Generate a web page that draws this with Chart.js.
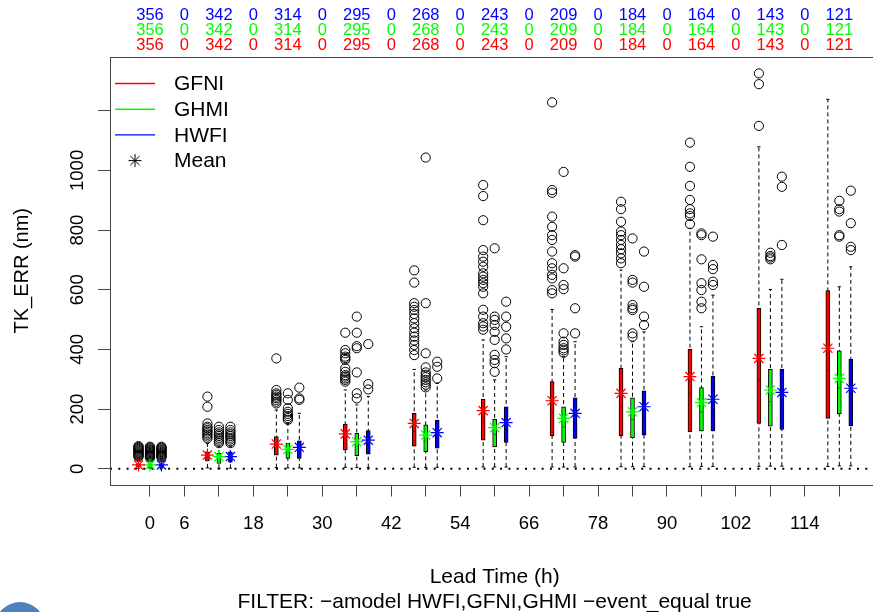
<!DOCTYPE html>
<html>
<head>
<meta charset="utf-8">
<title>TK_ERR by lead time</title>
<script src="https://cdn.jsdelivr.net/npm/chart.js@4.4.1/dist/chart.umd.min.js"></script>
<style>
  html, body { margin: 0; padding: 0; background: #fff; overflow: hidden; }
  #wrap { position: relative; width: 890px; height: 620px; }
  #dot { position: absolute; left: -5px; top: 602px; width: 50px; height: 50px; border-radius: 50%; background: #4f81bd; }
</style>
</head>
<body>
<div id="wrap"><canvas id="chart" width="890" height="620"></canvas></div>
<div id="dot"></div>
<script>
// axis positions and labels
const leadTimes = [0, 6, 12, 18, 24, 30, 36, 42, 48, 54, 60, 66, 72, 78, 84, 90, 96, 102, 108, 114, 120];
const leadLabels = [0, 6, 18, 30, 42, 54, 66, 78, 90, 102, 114];
const yTicks = [0, 200, 400, 600, 800, 1000, 1200];
const yLabels = [0, 200, 400, 600, 800, 1000];

// sample counts shown above the plot
const countsHWFI = [356, 0, 342, 0, 314, 0, 295, 0, 268, 0, 243, 0, 209, 0, 184, 0, 164, 0, 143, 0, 121];
const countsGHMI = [356, 0, 342, 0, 314, 0, 295, 0, 268, 0, 243, 0, 209, 0, 184, 0, 164, 0, 143, 0, 121];
const countsGFNI = [356, 0, 342, 0, 314, 0, 295, 0, 268, 0, 243, 0, 209, 0, 184, 0, 164, 0, 143, 0, 121];

// lead times that have boxes
const boxLeads = [0, 12, 24, 36, 48, 60, 72, 84, 96, 108, 120];

// GFNI
const gfniLow    = [2, 3, 4, 5, 5, 6, 6, 7, 7, 8, 8];
const gfniQ1     = [6, 27, 46, 63, 76, 96, 110, 110, 124, 152, 169];
const gfniMedian = [10, 40, 70, 100, 125, 160, 190, 205, 255, 300, 330];
const gfniQ3     = [17, 57, 108, 150, 186, 233, 292, 337, 400, 538, 597];
const gfniHigh   = [36, 85, 197, 264, 333, 432, 534, 666, 806, 1079, 1238];
const gfniMean   = [13, 46, 83, 117, 152, 195, 228, 253, 309, 370, 404];
const gfniOut = [
  [40, 43, 46, 49, 52, 55, 58, 61, 64, 67, 70, 73, 76],
  [102, 108, 114, 119, 125, 130, 136, 141, 152, 208, 242],
  [219, 225, 231, 237, 242, 248, 253, 264, 370],
  [292, 298, 303, 309, 314, 325, 337, 365, 371, 376, 387, 398, 456],
  [381, 398, 415, 430, 443, 456, 471, 488, 504, 519, 532, 543, 555, 624, 665],
  [466, 477, 488, 510, 533, 588, 610, 622, 633, 644, 655, 677, 694, 711, 733, 833, 914, 951],
  [588, 599, 638, 650, 672, 689, 728, 767, 783, 811, 845, 925, 934, 1228],
  [689, 705, 722, 736, 750, 767, 783, 795, 828, 870, 895],
  [820, 847, 856, 870, 901, 948, 1012, 1093],
  [1149, 1289, 1325],
  []
];

// GHMI
const ghmiLow    = [2, 2, 3, 4, 5, 6, 6, 7, 8, 9, 10];
const ghmiQ1     = [5, 18, 35, 44, 57, 74, 88, 104, 127, 143, 184];
const ghmiMedian = [9, 30, 55, 75, 95, 115, 140, 165, 190, 225, 270];
const ghmiQ3     = [16, 52, 85, 119, 147, 166, 208, 238, 272, 333, 395];
const ghmiHigh   = [34, 74, 152, 214, 264, 298, 376, 426, 476, 601, 610];
const ghmiMean   = [13, 41, 65, 91, 113, 138, 169, 191, 222, 264, 303];
const ghmiOut = [
  [38, 41, 44, 47, 50, 53, 56, 59, 62, 65, 68, 71, 74],
  [86, 92, 98, 104, 110, 116, 122, 130, 141],
  [164, 170, 177, 184, 191, 203, 231, 253],
  [236, 253, 323, 404, 411, 456, 510],
  [273, 282, 290, 298, 307, 315, 323, 340, 387, 555, 1043],
  [325, 354, 365, 382, 432, 459, 482, 499, 510, 739],
  [389, 397, 404, 415, 426, 454, 602, 616, 672, 995],
  [443, 454, 532, 538, 549, 624, 633, 772],
  [538, 560, 599, 622, 702, 783, 789],
  [702, 708, 713, 724],
  [778, 783, 862, 870, 898]
];

// HWFI
const hwfiLow    = [2, 2, 3, 4, 5, 6, 6, 7, 8, 9, 10];
const hwfiQ1     = [5, 22, 35, 49, 69, 88, 102, 113, 127, 132, 144];
const hwfiMedian = [9, 32, 58, 80, 100, 130, 155, 175, 200, 215, 230];
const hwfiQ3     = [16, 57, 94, 128, 163, 208, 238, 261, 311, 333, 367];
const hwfiHigh   = [34, 76, 186, 242, 286, 376, 426, 459, 582, 635, 677];
const hwfiMean   = [13, 41, 72, 96, 121, 155, 186, 208, 233, 256, 270];
const hwfiOut = [
  [38, 41, 44, 47, 50, 53, 56, 59, 62, 65, 68, 71, 74],
  [86, 92, 98, 104, 110, 116, 122, 130, 141],
  [231, 236, 272],
  [266, 284, 418],
  [303, 342, 359],
  [400, 437, 476, 510, 560],
  [454, 538, 711, 716],
  [482, 510, 610, 728],
  [616, 627, 669, 683, 778],
  [750, 945, 979],
  [733, 744, 823, 932]
];

const models = [
  { name: 'GFNI', color: '#ff0000', dark: '#900000', offset: -2, low: gfniLow, q1: gfniQ1, med: gfniMedian, q3: gfniQ3, high: gfniHigh, mean: gfniMean, out: gfniOut },
  { name: 'GHMI', color: '#00ff00', dark: '#009000', offset: 0,  low: ghmiLow, q1: ghmiQ1, med: ghmiMedian, q3: ghmiQ3, high: ghmiHigh, mean: ghmiMean, out: ghmiOut },
  { name: 'HWFI', color: '#0000ff', dark: '#000090', offset: 2,  low: hwfiLow, q1: hwfiQ1, med: hwfiMedian, q3: hwfiQ3, high: hwfiHigh, mean: hwfiMean, out: hwfiOut }
];

const xMin = -6.96, xMax = 126.96;
const FONT = "'Liberation Sans', Arial, Helvetica, sans-serif";
Chart.defaults.font.family = FONT;
Chart.defaults.color = '#000';

const datasets = [];

// dotted zero line
datasets.push({
  type: 'line', data: [{ x: xMin, y: 0 }, { x: xMax, y: 0 }],
  borderColor: '#000', borderWidth: 2, borderDash: [2, 6.3], borderCapStyle: 'butt',
  pointRadius: 0, order: 6
});

models.forEach(m => {
  const whisk = [];
  boxLeads.forEach((t, i) => {
    whisk.push({ x: t + m.offset, y: m.low[i] }, { x: t + m.offset, y: m.high[i] }, { x: t + m.offset, y: null });
  });
  datasets.push({
    type: 'line', data: whisk, showLine: true, spanGaps: false,
    borderColor: '#000', borderWidth: 1, borderDash: [4, 3],
    pointStyle: 'line', pointRadius: 1.6, pointBorderColor: '#000', pointBorderWidth: 1,
    order: 5
  });
  datasets.push({
    type: 'bar', label: m.name,
    data: boxLeads.map((t, i) => ({ x: t + m.offset, y: [m.q1[i], m.q3[i]] })),
    backgroundColor: m.color, borderColor: '#000', borderWidth: 1, borderSkipped: false,
    barThickness: 4, grouped: false, order: 4
  });
  datasets.push({
    type: 'scatter', data: boxLeads.map((t, i) => ({ x: t + m.offset, y: m.med[i] })),
    pointStyle: 'line', pointRadius: 1.5, pointBorderWidth: 1, borderColor: m.dark, order: 3
  });
  const outs = [];
  boxLeads.forEach((t, i) => m.out[i].forEach(v => outs.push({ x: t + m.offset, y: v })));
  datasets.push({
    type: 'scatter', data: outs,
    pointStyle: 'circle', pointRadius: 4.6, pointBorderWidth: 1,
    borderColor: '#000', backgroundColor: 'rgba(0,0,0,0)', order: 2
  });
  datasets.push({
    type: 'scatter', data: boxLeads.map((t, i) => ({ x: t + m.offset, y: m.mean[i] })),
    pointStyle: 'star', pointRadius: 6.5, pointBorderWidth: 1.2, borderColor: m.color, order: 1
  });
});

function drawStar(ctx, x, y, r) {
  ctx.beginPath();
  for (let k = 0; k < 4; k++) {
    const a = k * Math.PI / 4;
    ctx.moveTo(x - Math.cos(a) * r, y - Math.sin(a) * r);
    ctx.lineTo(x + Math.cos(a) * r, y + Math.sin(a) * r);
  }
  ctx.stroke();
}

const decor = {
  id: 'decor',
  afterDraw(chart) {
    const { ctx, chartArea: a, scales: { x } } = chart;
    ctx.save();
    // plot frame
    ctx.strokeStyle = '#444';
    ctx.lineWidth = 1;
    ctx.strokeRect(Math.round(a.left) + 0.5, Math.round(a.top) + 0.5, Math.round(a.right - a.left), Math.round(a.bottom - a.top));

    // counts on top
    ctx.font = '16.5px ' + FONT;
    ctx.textAlign = 'center';
    ctx.textBaseline = 'middle';
    const rows = [[countsHWFI, '#0000ff', 15.5], [countsGHMI, '#00ff00', 30.5], [countsGFNI, '#ff0000', 45.5]];
    rows.forEach(([arr, col, yy]) => {
      ctx.fillStyle = col;
      leadTimes.forEach((t, i) => ctx.fillText(String(arr[i]), x.getPixelForValue(t), yy));
    });

    // legend
    ctx.font = '21px ' + FONT;
    ctx.textAlign = 'left';
    ctx.lineWidth = 1.4;
    models.forEach((m, i) => {
      const yy = 83.5 + i * 25.7;
      ctx.strokeStyle = m.color;
      ctx.beginPath(); ctx.moveTo(115, yy); ctx.lineTo(155, yy); ctx.stroke();
      ctx.fillStyle = '#000';
      ctx.fillText(m.name, 174, yy + 1);
    });
    ctx.strokeStyle = '#000';
    ctx.lineWidth = 1;
    drawStar(ctx, 135, 160.6, 6.5);
    ctx.fillText('Mean', 174, 161.6);
    ctx.restore();
  }
};

new Chart(document.getElementById('chart'), {
  type: 'scatter',
  data: { datasets },
  options: {
    responsive: false,
    animation: false,
    events: [],
    layout: { padding: { top: 57, right: 10.7, bottom: 0, left: 0 } },
    plugins: { legend: { display: false }, tooltip: { enabled: false } },
    scales: {
      x: {
        type: 'linear', min: xMin, max: xMax, offset: false,
        afterBuildTicks: s => { s.ticks = leadTimes.map(v => ({ value: v })); },
        afterFit: s => { s.height = 135.5; s.paddingLeft = 0; s.paddingRight = 0; },
        ticks: {
          autoSkip: false, maxRotation: 0, padding: 16,
          font: { size: 18.5 }, color: '#000',
          callback: v => leadLabels.includes(v) ? String(v) : ''
        },
        grid: { offset: false, drawOnChartArea: false, drawTicks: true, tickLength: 12, color: '#444' },
        border: { display: false },
        title: {
          display: true, color: '#000', font: { size: 21 },
          text: ['Lead Time (h)', 'FILTER: \u2212amodel HWFI,GFNI,GHMI \u2212event_equal true'],
          padding: { top: 0, bottom: 5 }
        }
      },
      y: {
        type: 'linear', min: -52.6, max: 1380,
        afterBuildTicks: s => { s.ticks = yTicks.map(v => ({ value: v })); },
        afterFit: s => { s.width = 110; s.paddingTop = 0; s.paddingBottom = 0; },
        ticks: {
          autoSkip: false, minRotation: 90, maxRotation: 90, crossAlign: 'center', padding: 0,
          font: { size: 18.5 }, color: '#000',
          callback: v => yLabels.includes(v) ? String(v) : ''
        },
        grid: { drawOnChartArea: false, drawTicks: true, tickLength: 12, color: '#444' },
        border: { display: false },
        title: {
          display: true, color: '#000', font: { size: 20 }, text: 'TK_ERR (nm)',
          padding: { top: 10, bottom: 0 }
        }
      }
    }
  },
  plugins: [decor]
});
</script>
</body>
</html>
